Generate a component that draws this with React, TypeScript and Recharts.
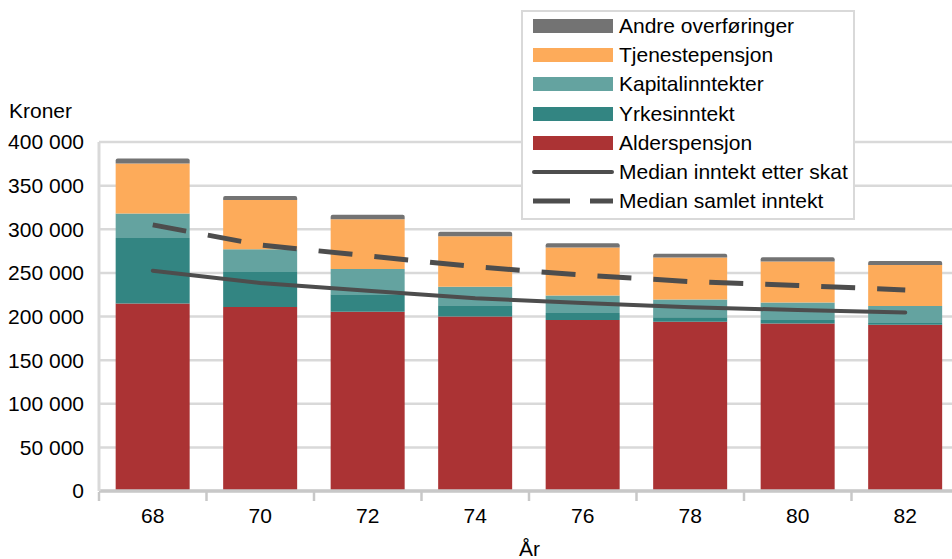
import { ComposedChart, Bar, Line, XAxis, YAxis, CartesianGrid, Legend } from 'recharts';

const years = ['68', '70', '72', '74', '76', '78', '80', '82'];
const alderspensjon = [215000, 211000, 205500, 200000, 196000, 194000, 192000, 190500];
const yrkesinntekt = [75000, 40000, 20000, 13000, 8000, 5000, 4000, 2000];
const kapitalinntekter = [28000, 26000, 29000, 21000, 20000, 20500, 20000, 19500];
const tjenestepensjon = [57500, 56500, 57000, 58000, 55000, 48000, 47000, 47000];
const andreOverforinger = [5500, 4500, 5000, 5000, 5000, 4500, 5000, 4500];
const medianEtterSkat = [252500, 238500, 229500, 221000, 215500, 210500, 207500, 204500];
const medianSamlet = [305000, 282000, 269500, 257000, 247500, 240000, 235500, 230500];
const yTicks = [0, 50000, 100000, 150000, 200000, 250000, 300000, 350000, 400000];

const data = years.map((year, i) => ({
    year,
    alders: alderspensjon[i],
    yrkes: yrkesinntekt[i],
    kapital: kapitalinntekter[i],
    tjeneste: tjenestepensjon[i],
    andre: andreOverforinger[i],
    etterSkat: medianEtterSkat[i],
    samlet: medianSamlet[i],
}));

const FONT = '"Liberation Sans", Arial, sans-serif';
const FS = 21;
const LINE = '#4d4d4d';

const legendItems = [
    { label: 'Andre overføringer', color: '#737373', kind: 'bar' },
    { label: 'Tjenestepensjon', color: '#fdab5a', kind: 'bar' },
    { label: 'Kapitalinntekter', color: '#64a3a0', kind: 'bar' },
    { label: 'Yrkesinntekt', color: '#338582', kind: 'bar' },
    { label: 'Alderspensjon', color: '#ab3334', kind: 'bar' },
    { label: 'Median inntekt etter skat', color: LINE, kind: 'solid' },
    { label: 'Median samlet inntekt', color: LINE, kind: 'dash' },
];

const formatKr = (v: number) => (v === 0 ? '0' : `${Math.round(v / 1000)} 000`);

// boxed legend in the top right, like the original
const BoxLegend = () => (
    <div
        style={{
            position: 'absolute', left: 521, top: 10, width: 330, height: 206,
            border: '2px solid #d9d9d9', background: '#fff', fontFamily: FONT, fontSize: FS, color: '#000',
        }}
    >
        {legendItems.map((it, i) => (
            <div key={it.label} style={{ position: 'absolute', left: 8, top: 1 + i * 29.2, height: 26, display: 'flex', alignItems: 'center', whiteSpace: 'nowrap' }}>
                <svg width={84} height={16} style={{ marginRight: 4 }}>
                    {it.kind === 'bar' && <rect x={2} y={1} width={80} height={14} fill={it.color} />}
                    {it.kind === 'solid' && <line x1={3} y1={8} x2={81} y2={8} stroke={it.color} strokeWidth={4} strokeLinecap="round" />}
                    {it.kind === 'dash' && <line x1={2} y1={8} x2={82} y2={8} stroke={it.color} strokeWidth={5} strokeDasharray="37 20" />}
                </svg>
                <span>{it.label}</span>
            </div>
        ))}
    </div>
);

// category label plus a tick mark at the left edge of each band
const CatTick = (props: any) => {
    const { x, y, payload } = props;
    const half = payload.offset ?? 0;
    return (
        <g>
            <line x1={x - half} y1={y - 7} x2={x - half} y2={y + 2} stroke="#c8c8c8" strokeWidth={2.5} />
            <text x={x} y={y + 24} textAnchor="middle" fontFamily={FONT} fontSize={FS} fill="#000">
                {payload.value}
            </text>
        </g>
    );
};

export default function App() {
    return (
        <div style={{ position: 'absolute', left: 0, top: 0, width: 952, height: 559, overflow: 'hidden', background: '#fff' }}>
            <div style={{ position: 'absolute', left: 9, top: 99, fontFamily: FONT, fontSize: FS }}>Kroner</div>
            <div style={{ position: 'absolute', left: 519, top: 537, fontFamily: FONT, fontSize: FS }}>År</div>
            <ComposedChart
                width={960}
                height={559}
                data={data}
                margin={{ top: 142, right: 1, left: 0, bottom: 8 }}
                barCategoryGap="15.5%"
            >
                <CartesianGrid horizontal vertical={false} stroke="#d9d9d9" strokeWidth={2.5} />
                <XAxis
                    dataKey="year"
                    height={60}
                    axisLine={{ stroke: '#c8c8c8', strokeWidth: 3.5 }}
                    tickLine={false}
                    tick={<CatTick />}
                    interval={0}
                />
                <YAxis
                    width={99}
                    domain={[0, 400000]}
                    ticks={yTicks}
                    tickFormatter={formatKr}
                    axisLine={{ stroke: '#d9d9d9', strokeWidth: 3 }}
                    tickLine={false}
                    tickSize={6}
                    tickMargin={9}
                    tick={{ fontSize: FS, fill: '#000', fontFamily: FONT }}
                />
                <Bar dataKey="alders" stackId="a" fill="#ab3334" isAnimationActive={false} />
                <Bar dataKey="yrkes" stackId="a" fill="#338582" isAnimationActive={false} />
                <Bar dataKey="kapital" stackId="a" fill="#64a3a0" isAnimationActive={false} />
                <Bar dataKey="tjeneste" stackId="a" fill="#fdab5a" isAnimationActive={false} />
                <Bar dataKey="andre" stackId="a" fill="#737373" isAnimationActive={false} radius={[2, 2, 0, 0]} />
                <Line dataKey="etterSkat" stroke={LINE} strokeWidth={4} dot={false} strokeLinecap="round" isAnimationActive={false} />
                <Line dataKey="samlet" stroke={LINE} strokeWidth={5} strokeDasharray="34 22" dot={false} isAnimationActive={false} />
                <Legend content={() => null} />
            </ComposedChart>
            <BoxLegend />
        </div>
    );
}
